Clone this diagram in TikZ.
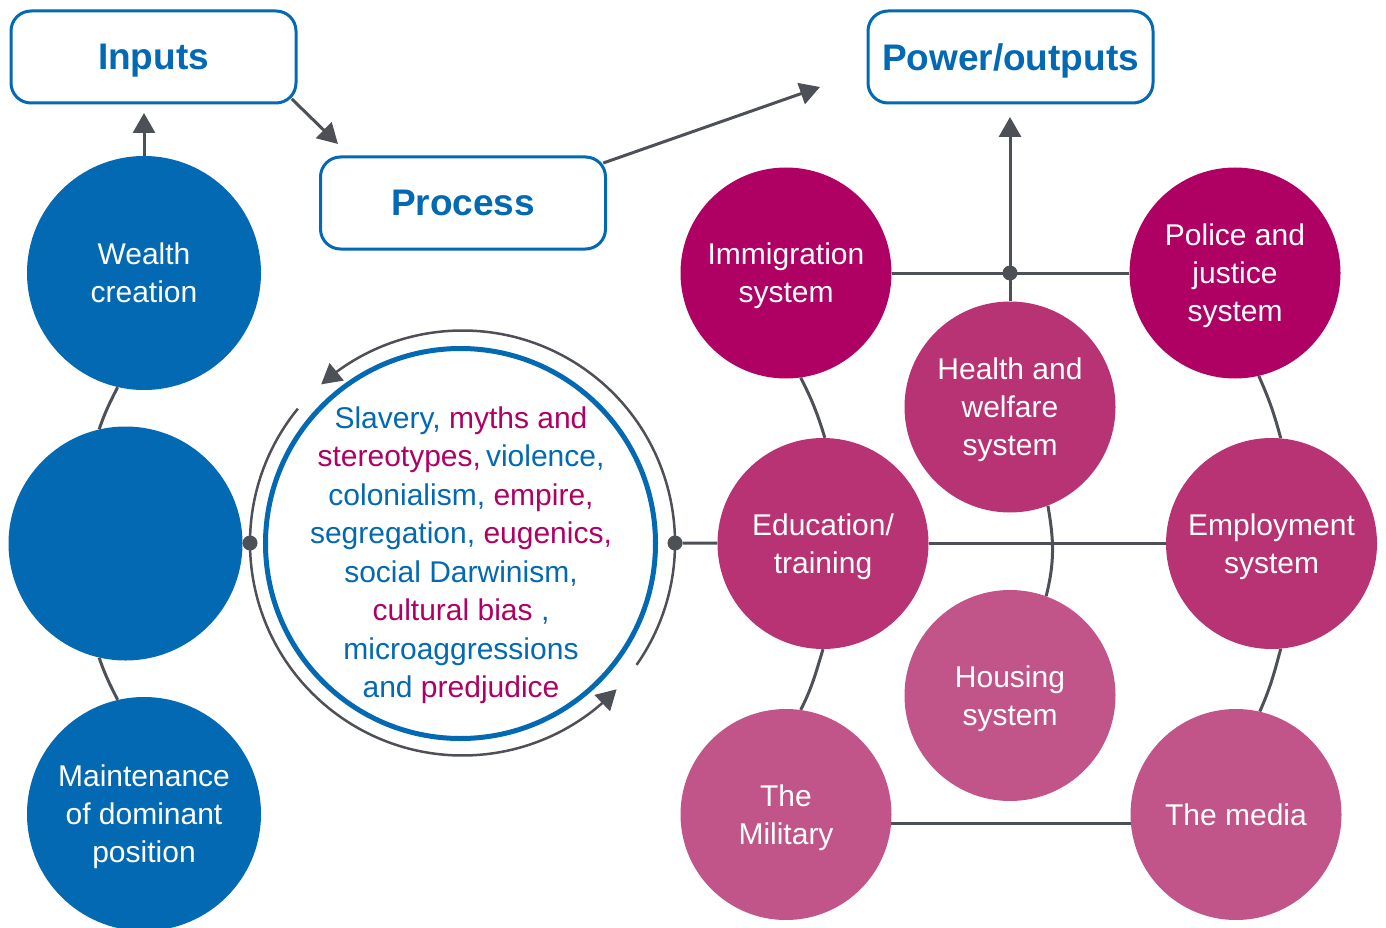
\documentclass[tikz,border=0pt]{standalone}
\usepackage{fontspec}
\setmainfont{Liberation Sans}
\usetikzlibrary{arrows.meta,backgrounds,bending}

\definecolor{bluec}{RGB}{3,105,179}
\definecolor{magA}{RGB}{175,0,100}
\definecolor{magB}{RGB}{184,51,116}
\definecolor{magC}{RGB}{193,85,137}
\definecolor{linec}{RGB}{77,80,87}

\begin{document}
\begin{tikzpicture}[x=1pt, y=1pt,
	box/.style={draw=bluec, line width=3pt, rounded corners=20pt, minimum width=285pt, minimum height=92pt, text=bluec, text depth=0pt, font=\bfseries\fontsize{37}{44}\selectfont},
	blob/.style={circle, inner sep=0pt, text=white, align=center, text depth=0pt, font=\fontsize{30}{38}\selectfont},
	bluedot/.style={blob, fill=bluec, minimum size=234pt},
	magdot/.style={blob, minimum size=211pt},
	joint/.style={circle, fill=linec, inner sep=0pt, minimum size=15pt},
	link/.style={draw=linec, line width=3pt},
	arr/.style={link, -{Triangle[length=20pt, width=22pt]}},
	cycarr/.style={draw=linec, line width=2.5pt, -{Triangle[length=20pt, width=22pt]}}]
	\useasboundingbox (0,0) rectangle (1386,-928);
	\begin{scope}[on background layer]
		\fill[white] (0,0) rectangle (1386,-928);
	\end{scope}

	\node (inputs) at (153.5,-57) [box] {Inputs};
	\node (process) at (463,-203) [box] {Process};
	\node (power) at (1010.5,-57) [box] {Power/outputs};
	\coordinate (intip) at (144,-113);
	\coordinate (toproc) at (338,-144);
	\coordinate (topower) at (820,-87);
	\coordinate (outtip) at (1010,-117);

	\node (wealth) at (144,-273) [bluedot] {Wealth\\creation};
	\node (middle) at (125.5,-543.5) [bluedot] {};
	\node (maint) at (144,-814) [bluedot] {Maintenance\\of dominant\\position};

	\node (immig) at (786,-273) [magdot, fill=magA] {Immigration\\system};
	\node (police) at (1235,-273) [magdot, fill=magA] {Police and\\justice\\system};
	\node (health) at (1010,-407) [magdot, fill=magB] {Health and\\welfare\\system};
	\node (edu) at (823,-543.5) [magdot, fill=magB] {Education/\\training};
	\node (employ) at (1271.5,-543.5) [magdot, fill=magB] {Employment\\system};
	\node (housing) at (1010,-695.5) [magdot, fill=magC] {Housing\\system};
	\node (mil) at (786,-814.5) [magdot, fill=magC] {The\\Military};
	\node (media) at (1236,-814.5) [magdot, fill=magC] {The media};

	\coordinate (ringc) at (462.5,-543);
	\node (ring) at (460.5,-543.5) [circle, draw=bluec, line width=5pt, minimum size=390pt] {};
	\node (story) at (461,-552) [align=center, text=bluec, text depth=0pt, font=\fontsize{30}{38.5}\selectfont] {Slavery, \textcolor{magA}{myths and}\\
		\textcolor{magA}{stereotypes,}\,violence,\\
		colonialism, \textcolor{magA}{empire,}\\
		segregation, \textcolor{magA}{eugenics,}\\
		social Darwinism,\\
		\textcolor{magA}{cultural bias} ,\\
		microaggressions\\
		and \textcolor{magA}{predjudice}};
	\draw[cycarr] (ringc) ++(-35:212.5) arc[start angle=-35, end angle=131.7, radius=212.5];
	\draw[cycarr] (ringc) ++(140.8:212.5) arc[start angle=140.8, end angle=316.5, radius=212.5];
	\node (ldot) at (250,-543) [joint] {};
	\node (rdot) at (675,-543) [joint] {};
	\node (pdot) at (1010,-273) [joint] {};

	\draw[arr, shorten <=-8pt] (inputs.south east) -- (toproc);
	\draw[arr, shorten <=-4pt] (process.16) -- (topower);

	\begin{scope}[on background layer]
		\draw[link] (wealth.257) to[out=243, in=71] (middle.103);
		\draw[link] (middle.257) to[out=289, in=117] (maint.103);
		\draw[link] (immig.278) to[out=-63, in=107] (edu.89);
		\draw[link] (edu.270) to[out=-107, in=63] (mil.82);
		\draw[link] (police.283) to[out=-66, in=105] (employ.85);
		\draw[link] (employ.275) to[out=-105, in=66] (media.77);
		\draw[link] (health.291) to[out=-80, in=76] (housing.70);
		\draw[link] (immig) -- (police);
		\draw[link] (edu) -- (employ);
		\draw[link] (mil.-5.4) -- (media.185.4);
		\draw[link] (rdot) -- (edu);
		\draw[arr] (health) -- (outtip);
		\draw[arr] (wealth) -- (intip);
	\end{scope}
\end{tikzpicture}
\end{document}
